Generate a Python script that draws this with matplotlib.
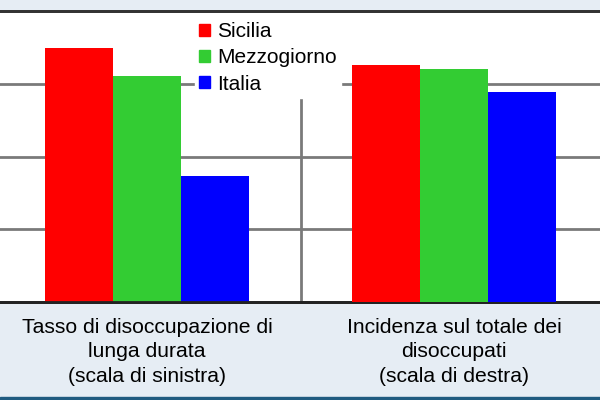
import matplotlib.pyplot as plt
from matplotlib.patches import Patch, Rectangle

plt.rcParams['font.family'] = ['Liberation Sans', 'DejaVu Sans']

# data (axis scales are not shown in the reference)
groups = ['Tasso di disoccupazione di\nlunga durata\n(scala di sinistra)',
          'Incidenza sul totale dei\ndisoccupati\n(scala di destra)']
series = ['Sicilia', 'Mezzogiorno', 'Italia']
colors = ['#ff0000', '#33cc33', '#0000ff']
tasso = [10.5, 9.35, 5.2]         # left scale, 0-12
incidenza = [65.3, 64.1, 57.9]    # right scale, 0-80

fig = plt.figure(figsize=(6, 4), dpi=100, facecolor='#e6edf4')
ax = fig.add_axes([-0.0108, 0.2458, 1.0233, 0.7255])
ax2 = ax.twinx()

w = 0.2215
for i, name in enumerate(series):
    ax.bar(0 + (i - 1) * w, tasso[i], w, color=colors[i], zorder=3)
    ax2.bar(1 + (i - 1) * w, incidenza[i], w, color=colors[i], zorder=3)

ax.set_xlim(-0.5, 1.5)
ax.set_ylim(0, 12)
ax2.set_ylim(0, 80)
ax.set_yticks([3, 6, 9])
ax2.set_yticks([])
ax.tick_params(axis='y', length=0, labelleft=False)
ax.grid(axis='y', color='#7a7a7a', lw=2)
# separator between the two groups, it stops under the legend
ax.axvline(0.5, ymax=0.7, color='#7a7a7a', lw=2, zorder=1)

ax.set_xticks([0, 1])
ax.set_xticklabels(groups, fontsize=15.2, linespacing=1.34)
ax.tick_params(axis='x', length=0, pad=12)

for a in (ax, ax2):
    for s in ('left', 'right'):
        a.spines[s].set_visible(False)
    a.spines['top'].set_color('#333333')
    a.spines['top'].set_linewidth(2)
    a.spines['bottom'].set_color('#222222')
    a.spines['bottom'].set_linewidth(2)

handles = [Patch(color=c, label=n) for c, n in zip(colors, series)]
leg = fig.legend(handles=handles, loc='upper left',
                 bbox_to_anchor=(195 / 600, 1 - 18 / 400), fontsize=15,
                 frameon=True, facecolor='white', edgecolor='white',
                 framealpha=1, fancybox=False, handlelength=0.5,
                 handleheight=0.5, handletextpad=0.35, labelspacing=0.35,
                 borderpad=0.2, borderaxespad=0)
leg.set_zorder(10)

fig.patches.append(Rectangle((0, 0), 1, 3.5 / 400, transform=fig.transFigure,
                             color='#1f5b80', zorder=5))

fig.savefig('out.png', facecolor=fig.get_facecolor())
